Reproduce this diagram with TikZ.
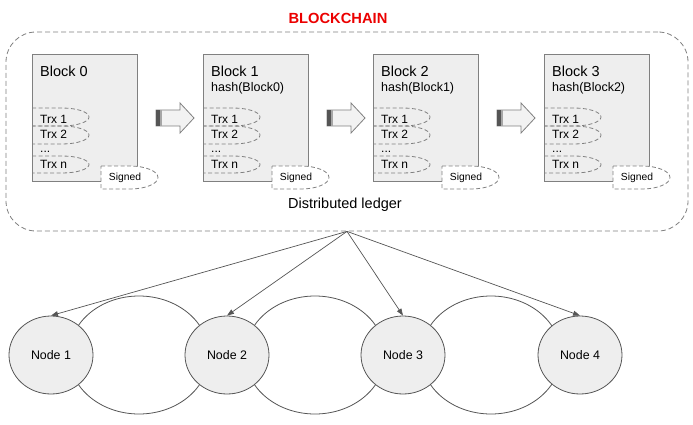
\documentclass[tikz,border=0pt]{standalone}
\usepackage{fontspec}
\setmainfont{Liberation Sans}
\usepackage{tikz}
\usepackage{xcolor}
\usetikzlibrary{arrows.meta, positioning, shapes.geometric, calc}
\definecolor{blockgray}{RGB}{238, 238, 238}
\definecolor{bordergray}{RGB}{128, 128, 128}
\definecolor{edgegray}{RGB}{85, 85, 85}
\definecolor{titlered}{RGB}{235, 0, 0}

\begin{document}
\begin{tikzpicture}[x=1pt, y=-1pt,
    block/.style={draw=bordergray, fill=blockgray, line width=0.8pt, minimum width=105pt, minimum height=127pt, anchor=north west, inner sep=0pt},
    blocktitle/.style={anchor=west, inner sep=0pt, font=\fontsize{14.5}{17}\selectfont},
    hashtext/.style={anchor=west, inner sep=0pt, font=\fontsize{12.5}{15}\selectfont},
    trxtext/.style={anchor=west, inner sep=0pt, font=\fontsize{12}{14}\selectfont},
    trxline/.style={draw=bordergray, line width=0.8pt, dash pattern=on 4pt off 2.5pt},
    chainarrow/.style={draw=bordergray, fill=white!95!black, line width=0.8pt, line join=miter},
    peer/.style={ellipse, draw=edgegray, fill=blockgray, line width=0.8pt, minimum width=84pt, minimum height=78pt, font=\fontsize{12.4}{15}\selectfont},
    link/.style={ellipse, draw=edgegray, line width=0.8pt, minimum width=140pt, minimum height=118pt},
    feed/.style={-{Triangle[length=7pt, width=5pt]}, edgegray, line width=0.7pt}
]
\useasboundingbox (0,0) rectangle (693,425);

% Title and ledger frame
\node[font=\bfseries\fontsize{14.7}{17}\selectfont, text=titlered] (title) at (338,18) {BLOCKCHAIN};
\node[draw=bordergray, line width=0.8pt, dash pattern=on 5pt off 3pt, rounded corners=30pt,
      minimum width=682pt, minimum height=199pt] (ledger) at (347,131.5) {};

% Blocks of the chain
\foreach \bx/\i in {32/0, 203/1, 373/2, 544/3} {
\begin{scope}[shift={(\bx,54)}]
    \node[block] (blk\i) at (0,0) {};
    \node[blocktitle] (name\i) at (8,17) {Block \i};
    \ifnum\i>0
        \pgfmathtruncatemacro{\prev}{\i-1}
        \node[hashtext] (hash\i) at (8,34) {hash(Block\prev)};
    \fi

    % Transactions
    \draw[trxline] (0,54) -- (30,54) arc[start angle=-90, end angle=90, x radius=27, y radius=9] -- (0,72);
    \draw[trxline] (0,72) -- (30,72) arc[start angle=-90, end angle=90, x radius=27, y radius=9] -- (0,90);
    \draw[trxline] (0,102) -- (30,102) arc[start angle=-90, end angle=90, x radius=27, y radius=8.5] -- (0,119);
    \node[trxtext] (trxa\i) at (8,65) {Trx 1};
    \node[trxtext] (trxb\i) at (8,80) {Trx 2};
    \node[trxtext, anchor=base west, text height=1.5pt, text depth=0pt] (dots\i) at (8,99) {...};
    \node[trxtext] (trxn\i) at (8,110) {Trx n};

    % Signature
    \draw[trxline, fill=white] (69,112) -- (98,112) arc[start angle=-90, end angle=90, x radius=28, y radius=11.5] -- (69,135) -- cycle;
    \node[font=\fontsize{10.3}{12}\selectfont, inner sep=0pt] (sign\i) at (93,124) {Signed};

    % Arrow to next block
    \ifnum\i<3
        \draw[chainarrow] (124,56) -- (148,56) -- (148,49) -- (162,64) -- (148,79) -- (148,72) -- (124,72) -- cycle;
        \fill[edgegray] (124,56) rectangle (127.5,72);
        \fill[bordergray!70] (127.5,56) rectangle (130,72);
    \fi
\end{scope}
}

\node[font=\fontsize{14.5}{17}\selectfont] (dlabel) at (345,205) {Distributed ledger};

% Network of nodes
\node[link] (link12) at (139,355) {};
\node[link] (link23) at (315,355) {};
\node[link] (link34) at (491,355) {};

\node[peer] (n1) at (51,355) {Node 1};
\node[peer] (n2) at (227,355) {Node 2};
\node[peer] (n3) at (403,355) {Node 3};
\node[peer] (n4) at (580,355) {Node 4};

\foreach \n in {n1, n2, n3, n4}
    \draw[feed] (ledger.south) -- (\n.north);

\end{tikzpicture}
\end{document}
